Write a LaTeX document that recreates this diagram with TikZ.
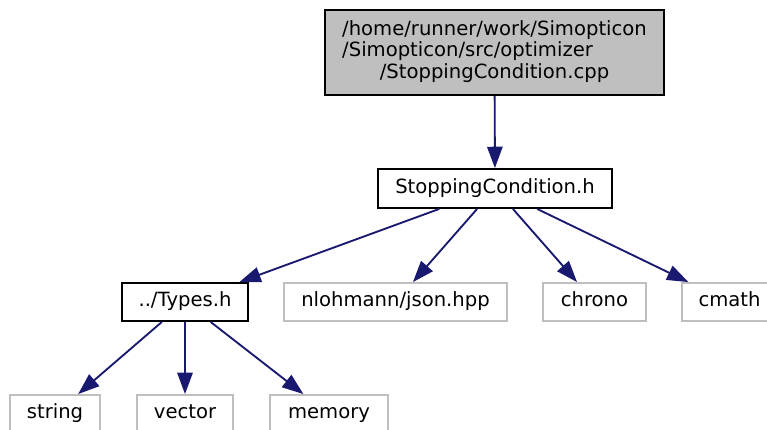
\documentclass[tikz,border=0pt]{standalone}
\usepackage{fontspec}
\setmainfont{DejaVu Sans}
\usetikzlibrary{arrows.meta}
\definecolor{edgeblue}{HTML}{191970}
\definecolor{boxgray}{HTML}{BFBFBF}
\tikzset{
  base/.style={rectangle, inner sep=0pt, minimum height=28.5pt, line width=1.4pt,
    font=\fontsize{14.7}{15.9}\selectfont, text=black},
  oneline/.style={base, text height=10.7pt, text depth=3.4pt},
  mainbox/.style={oneline, draw=black},
  extbox/.style={oneline, draw=boxgray},
  topbox/.style={base, draw=black, fill=boxgray},
  dep/.style={draw=edgeblue, line width=1.4pt, -{Triangle[length=16pt,width=11.5pt]}, edgeblue}
}
\begin{document}
\begin{tikzpicture}[x=0.75pt,y=-0.75pt]
\clip (0,0) rectangle (767,429);
\node[topbox, minimum width=254.25pt, minimum height=63.75pt] (top) at (494.5,52.5)
  {\begin{tabular}{@{}l@{}}/home/runner/work/Simopticon\\/Simopticon/src/optimizer\\\multicolumn{1}{@{}c@{}}{/StoppingCondition.cpp}\end{tabular}};
\node[mainbox, minimum width=175.5pt, minimum height=29.25pt] (sc) at (495,188.5) {StoppingCondition.h};
\node[mainbox, minimum width=94.5pt] (types) at (185,302) {../Types.h};
\node[extbox, minimum width=167.25pt] (json) at (395.5,302) {nlohmann/json.hpp};
\node[extbox, minimum width=77.25pt] (chrono) at (594.5,302) {chrono};
\node[extbox, minimum width=71.25pt] (cmath) at (729.5,302) {cmath};
\node[extbox, minimum width=67.5pt] (string) at (55,414) {string};
\node[extbox, minimum width=72pt] (vector) at (185,414) {vector};
\node[extbox, minimum width=88.5pt] (memory) at (329,414) {memory};
\draw[dep] (top) -- (sc);
\draw[dep] (sc) -- (types);
\draw[dep] (sc) -- (json);
\draw[dep] (sc) -- (chrono);
\draw[dep] (sc) -- (cmath);
\draw[dep] (types) -- (string);
\draw[dep] (types) -- (vector);
\draw[dep] (types) -- (memory);
\end{tikzpicture}
\end{document}
